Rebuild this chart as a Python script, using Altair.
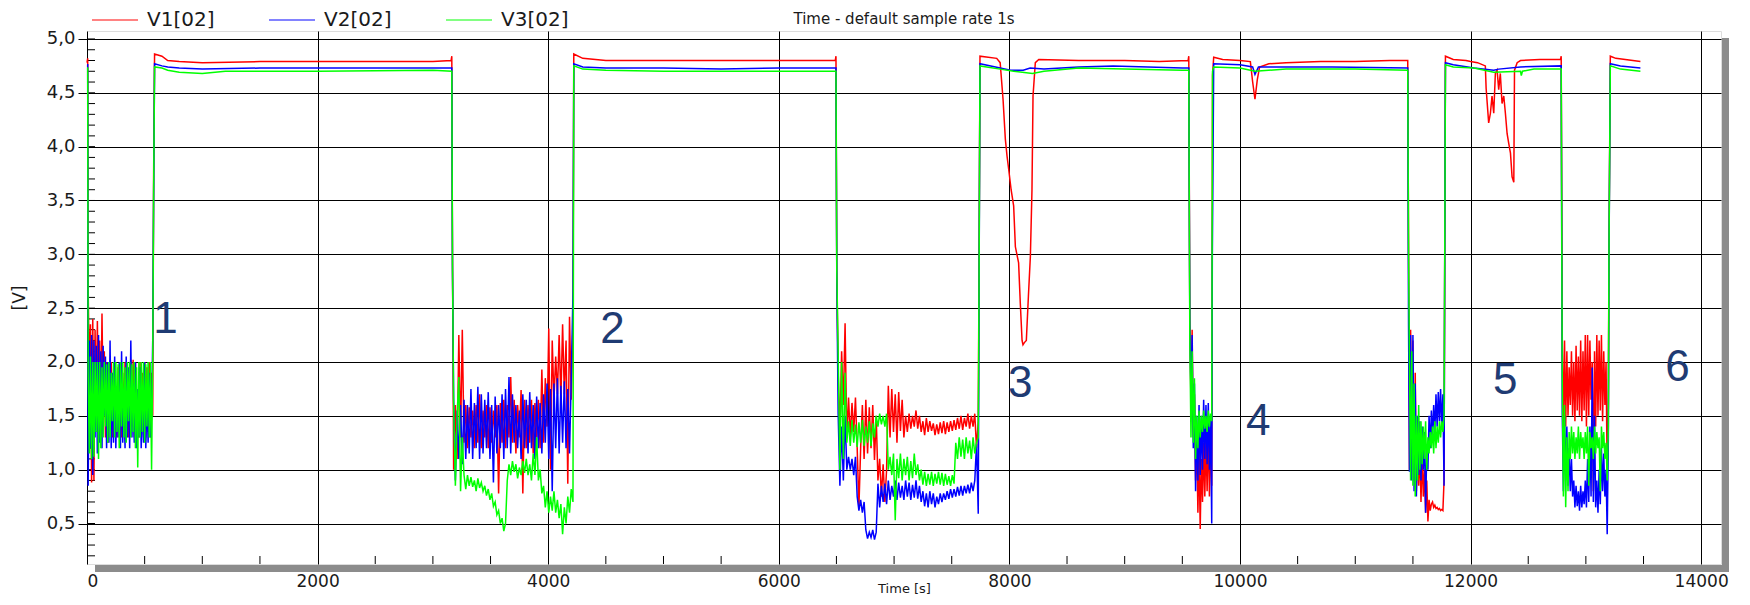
import altair as alt
import pandas as pd

SERIES = ["V1[02]", "V2[02]", "V3[02]"]
COLORS = ["#ff0000", "#0000ff", "#00ff00"]
CHART_TITLE = "Time  -  default sample rate  1s"

X_TICKS = [0, 2000, 4000, 6000, 8000, 10000, 12000, 14000]
Y_TICKS = [0.5, 1.0, 1.5, 2.0, 2.5, 3.0, 3.5, 4.0, 4.5, 5.0]
X_MINOR = [500, 1000, 1500, 2500, 3000, 3500, 4500, 5000, 5500, 6500, 7000, 7500,
           8500, 9000, 9500, 10500, 11000, 11500, 12500, 13000, 13500]
Y_MINOR = [round(0.2 + 0.1 * i, 1) for i in range(49)]

# quiet parts (plateaus, dips, transitions): (time [s], value [V])
v1_knots = [(0, 4.78), (6, 4.82),
            (578, 3.75), (586, 4.86), (650, 4.84), (700, 4.80), (800, 4.79), (1000, 4.78), (1500, 4.79),
            (2000, 4.79), (2500, 4.79), (3000, 4.79), (3158, 4.80), (3164, 4.84), (3170, 2.95),
            (4222, 4.86), (4300, 4.82), (4500, 4.80), (5000, 4.80), (5500, 4.80), (6000, 4.80), (6490, 4.80),
            (6496, 4.84), (6503, 2.85),
            (7738, 3.15), (7745, 4.84), (7890, 4.82), (7920, 4.78), (7945, 4.44), (7965, 4.07), (7980, 3.91),
            (7994, 3.79), (8015, 3.60), (8037, 3.45), (8052, 3.07), (8080, 2.92), (8095, 2.54), (8110, 2.20),
            (8118, 2.16), (8130, 2.18), (8147, 2.20), (8165, 2.61), (8182, 2.98), (8196, 3.60), (8205, 4.47),
            (8225, 4.78), (8255, 4.81), (8600, 4.80), (9000, 4.80), (9300, 4.79), (9550, 4.80), (9556, 4.84),
            (9762, 4.66), (9772, 4.83), (9850, 4.81), (10000, 4.80), (10090, 4.79), (10110, 4.60), (10130, 4.44),
            (10150, 4.62), (10170, 4.74), (10250, 4.77), (10400, 4.78), (10700, 4.79), (11000, 4.79),
            (11300, 4.80), (11455, 4.80), (11462, 3.10),
            (11776, 3.00), (11782, 4.84), (11850, 4.81), (11960, 4.80), (12000, 4.79), (12060, 4.78),
            (12128, 4.75), (12135, 4.54), (12157, 4.22), (12172, 4.31), (12186, 4.47), (12201, 4.31),
            (12215, 4.68), (12230, 4.71), (12244, 4.53), (12258, 4.68), (12273, 4.40), (12288, 4.47),
            (12302, 4.31), (12317, 4.12), (12331, 4.03), (12346, 3.94), (12360, 3.72), (12375, 3.67),
            (12381, 4.71), (12404, 4.78), (12433, 4.80), (12600, 4.81), (12780, 4.81), (12786, 4.84),
            (13200, 3.00), (13212, 4.84), (13260, 4.82), (13473, 4.79)]

v2_knots = [(0, 4.76), (6, 4.76),
            (578, 3.55), (586, 4.77), (650, 4.75), (700, 4.74), (800, 4.73), (1000, 4.72), (1500, 4.73),
            (2000, 4.73), (2500, 4.73), (3000, 4.73), (3164, 4.73), (3170, 2.85),
            (4222, 4.77), (4300, 4.74), (4500, 4.73), (5000, 4.73), (5500, 4.72), (6000, 4.73), (6496, 4.73),
            (6503, 2.80),
            (7738, 2.95), (7745, 4.77), (7920, 4.73), (8010, 4.71), (8120, 4.71), (8180, 4.73), (8300, 4.72),
            (8600, 4.74), (8900, 4.75), (9500, 4.73), (9556, 4.73),
            (9760, 2.95), (9772, 4.77), (10000, 4.76), (10110, 4.74), (10130, 4.67), (10160, 4.74),
            (10400, 4.74), (10800, 4.74), (11455, 4.73), (11462, 2.35),
            (11776, 3.05), (11782, 4.78), (11850, 4.76), (12030, 4.73), (12201, 4.71), (12244, 4.72),
            (12433, 4.74), (12786, 4.75),
            (13200, 2.90), (13212, 4.77), (13300, 4.75), (13473, 4.73)]

v3_knots = [(0, 4.73), (6, 4.73),
            (578, 3.60), (586, 4.74), (650, 4.73), (700, 4.71), (800, 4.69), (1000, 4.68), (1200, 4.70),
            (2000, 4.70), (3000, 4.71), (3164, 4.70), (3170, 2.90),
            (4222, 4.75), (4300, 4.72), (4500, 4.71), (5000, 4.70), (6496, 4.70), (6503, 2.85),
            (7738, 3.00), (7745, 4.75), (7920, 4.72), (8037, 4.70), (8200, 4.68), (8300, 4.70), (8600, 4.73),
            (9500, 4.71), (9556, 4.71),
            (9762, 4.70), (9772, 4.74), (10000, 4.73), (10130, 4.70), (10400, 4.72), (11000, 4.72),
            (11455, 4.71), (11462, 3.05),
            (11776, 3.00), (11782, 4.76), (11850, 4.74), (12030, 4.73), (12201, 4.69), (12433, 4.70),
            (12440, 4.66), (12450, 4.70), (12550, 4.72), (12786, 4.72),
            (13200, 2.95), (13212, 4.75), (13300, 4.72), (13473, 4.70)]

# noisy low-voltage segments: start time, sample step [s]
SEG_START = [10, 3180, 6515, 9565, 11470, 12795]
SEG_STEP = [10, 15, 15, 10, 10, 10]

v1_seg_a = [2.67, 1.9, 2.35, 0.88, 2.4, 0.9, 2.3, 1.5, 2.38, 1.3, 2.2, 1.4, 2.45, 1.6, 2.1, 1.3, 2.0, 1.25,
            1.95, 1.4, 2.0, 1.3, 1.9, 1.35, 1.6, 1.3, 1.95, 1.45, 2.0, 1.3, 1.9, 1.5, 2.0, 1.35, 1.95, 1.3,
            1.9, 2.02, 1.4, 2.02, 1.3, 2.0, 1.3, 1.62, 1.3, 2.0, 1.35, 1.9, 1.3, 2.0, 1.3, 1.95, 1.35, 2.0,
            1.3, 1.9, 1.5]
v2_seg_a = [0.85, 2.2, 1.2, 2.25, 0.95, 2.2, 1.3, 2.15, 1.15, 2.25, 1.25, 2.1, 1.2, 2.15, 1.5, 2.05, 1.2,
            2.0, 1.25, 2.2, 1.2, 1.9, 1.25, 2.05, 1.2, 1.75, 1.3, 2.0, 1.2, 2.1, 1.25, 1.7, 1.2, 2.05, 1.3,
            1.95, 1.2, 2.2, 1.3, 1.8, 1.25, 2.0, 1.2, 1.75, 1.3, 1.95, 1.2, 1.65, 1.25, 2.0, 1.2, 1.7, 1.25,
            1.9, 1.3, 1.5, 2.2]
v3_seg_a = [1.9, 1.15, 2.05, 1.1, 2.0, 1.12, 2.0, 1.35, 2.0, 1.1, 2.0, 1.2, 1.95, 1.3, 2.0, 1.4, 1.98, 1.25,
            2.0, 1.3, 1.9, 1.45, 2.0, 1.3, 2.0, 1.35, 1.98, 1.2, 2.0, 1.4, 2.0, 1.3, 1.95, 1.25, 2.0, 1.45,
            2.0, 1.3, 1.98, 1.35, 2.0, 1.2, 1.95, 1.02, 2.0, 1.3, 2.0, 1.35, 2.0, 1.25, 1.98, 1.4, 2.0, 1.3,
            2.0, 1.0, 2.0]

v1_seg_b = [1.0, 1.6, 1.1, 2.25, 1.3, 2.3, 1.25, 1.6, 1.2, 1.58, 1.3, 1.55, 1.2, 1.6, 1.25, 1.7, 1.2, 1.55,
            1.3, 1.6, 1.2, 1.58, 1.25, 1.55, 1.3, 1.6, 0.78, 1.62, 1.25, 1.65, 1.2, 1.6, 1.3, 1.86, 1.25,
            1.65, 1.15, 1.6, 1.3, 1.74, 0.78, 1.65, 1.2, 1.6, 1.25, 1.65, 1.15, 1.62, 1.3, 1.65, 1.2, 1.93,
            1.25, 1.85, 1.4, 2.31, 1.0, 2.2, 1.65, 2.05, 1.7, 2.25, 1.65, 2.35, 1.7, 2.2, 0.87, 2.42, 1.65,
            2.35]
v2_seg_b = [1.65, 0.9, 1.55, 1.1, 1.6, 1.05, 1.65, 1.1, 1.6, 1.15, 1.75, 1.1, 1.62, 1.2, 1.77, 1.1, 1.7,
            1.15, 1.65, 1.2, 1.72, 1.1, 1.6, 0.88, 1.68, 1.15, 1.6, 1.2, 1.7, 1.1, 1.75, 1.2, 1.86, 1.15, 1.7,
            1.25, 1.6, 1.2, 1.55, 1.1, 1.7, 1.2, 1.65, 1.15, 1.72, 1.2, 1.6, 1.1, 1.68, 1.2, 1.62, 1.15, 1.7,
            1.25, 1.8, 1.1, 1.75, 0.8, 1.8, 1.2, 1.85, 1.15, 1.78, 1.25, 1.82, 1.2, 1.75, 1.15, 1.85, 2.65]
v3_seg_b = [1.6, 0.85, 1.5, 1.86, 0.8, 1.3, 0.95, 0.82, 0.95, 0.85, 0.93, 0.84, 0.9, 0.8, 0.92, 0.83, 0.88,
            0.8, 0.85, 0.76, 0.82, 0.72, 0.78, 0.66, 0.7, 0.58, 0.62, 0.5, 0.55, 0.43, 0.5, 0.9, 1.05, 0.95,
            1.08, 0.98, 1.05, 0.92, 1.02, 0.95, 1.08, 0.97, 1.1, 0.95, 1.05, 0.9, 1.15, 0.95, 1.3, 0.9, 1.0,
            0.78, 0.85, 0.65, 0.8, 0.6, 0.75, 0.62, 0.8, 0.6, 0.72, 0.55, 0.68, 0.4, 0.65, 0.5, 0.75, 0.6,
            0.82, 0.7]

v1_seg_c = [1.9, 1.35, 2.1, 1.6, 2.36, 1.3, 1.67, 1.3, 1.62, 1.35, 1.67, 1.2, 0.65, 1.2, 1.6, 1.1, 1.65,
            1.15, 1.58, 1.2, 1.6, 1.09, 1.5, 0.9, 1.1, 0.75, 1.05, 0.7, 1.0, 1.78, 1.3, 1.75, 1.35, 1.7, 1.25,
            1.72, 1.36, 1.65, 1.3, 1.5, 1.35, 1.52, 1.38, 1.5, 1.4, 1.55, 1.38, 1.5, 1.35, 1.45, 1.32, 1.48,
            1.35, 1.45, 1.36, 1.43, 1.32, 1.42, 1.33, 1.44, 1.34, 1.45, 1.33, 1.44, 1.35, 1.45, 1.36, 1.46,
            1.37, 1.48, 1.38, 1.5, 1.37, 1.48, 1.4, 1.52, 1.38, 1.5, 1.4, 1.52, 1.2, 1.45]
v2_seg_c = [1.52, 0.85, 1.4, 0.9, 1.5, 1.0, 1.12, 1.0, 1.1, 0.95, 1.12, 0.75, 0.62, 0.72, 0.6, 0.7, 0.44,
            0.36, 0.42, 0.37, 0.44, 0.35, 0.42, 0.87, 0.65, 0.85, 0.7, 0.87, 0.68, 0.9, 0.72, 0.85, 0.75, 0.9,
            0.72, 0.88, 0.74, 0.85, 0.72, 0.9, 0.75, 0.88, 0.72, 0.86, 0.74, 0.9, 0.73, 0.85, 0.7, 0.8, 0.66,
            0.78, 0.65, 0.8, 0.68, 0.78, 0.65, 0.75, 0.68, 0.78, 0.7, 0.78, 0.72, 0.8, 0.73, 0.82, 0.74, 0.82,
            0.75, 0.84, 0.76, 0.85, 0.76, 0.85, 0.78, 0.86, 0.78, 0.88, 0.8, 0.9, 1.24, 0.59]
v3_seg_c = [2.08, 1.0, 2.0, 1.1, 1.9, 1.25, 1.45, 1.22, 1.46, 1.25, 1.42, 1.21, 1.44, 1.25, 1.46, 1.22, 1.4,
            1.25, 1.45, 1.22, 1.43, 1.3, 1.5, 1.4, 1.52, 1.42, 1.5, 1.4, 1.52, 1.0, 1.12, 0.95, 1.15, 0.53,
            1.1, 0.92, 1.15, 0.9, 1.1, 0.95, 1.12, 0.9, 1.08, 0.92, 1.15, 0.95, 1.05, 0.9, 1.0, 0.86, 0.98,
            0.85, 0.96, 0.86, 0.98, 0.85, 0.96, 0.87, 0.98, 0.86, 0.97, 0.85, 0.96, 0.86, 0.94, 0.85, 0.95,
            0.87, 1.25, 1.1, 1.3, 1.12, 1.28, 1.1, 1.3, 1.15, 1.27, 1.1, 1.3, 1.15, 1.25, 1.3]

v1_seg_d = [2.42, 1.6, 2.3, 1.3, 1.7, 0.9, 1.3, 0.6, 1.2, 0.45, 1.1, 0.7, 1.25, 0.75, 1.3, 0.8, 1.4, 0.75,
            1.3, 0.85]
v2_seg_d = [2.35, 1.7, 2.25, 1.2, 1.8, 0.8, 1.5, 0.9, 1.6, 0.95, 1.5, 1.0, 1.65, 1.1, 1.6, 1.05, 1.62, 1.0,
            1.5, 0.5]
v3_seg_d = [2.2, 1.3, 2.1, 1.25, 1.85, 1.1, 1.5, 1.2, 1.55, 1.3, 1.5, 1.35, 1.55, 1.38, 1.5, 1.35, 1.55,
            1.4, 1.52, 1.45]

v1_seg_e = [1.0, 2.3, 1.1, 2.2, 0.9, 1.9, 0.8, 1.25, 0.85, 1.2, 0.7, 1.15, 0.75, 1.0, 0.6, 0.9, 0.52, 0.72,
            0.62, 0.68, 0.7, 0.65, 0.67, 0.64, 0.65, 0.63, 0.64, 0.62, 0.63, 0.62, 0.9]
v2_seg_e = [0.98, 2.25, 0.9, 2.25, 0.8, 1.8, 0.75, 1.5, 0.95, 1.45, 0.9, 1.4, 1.0, 1.35, 0.6, 1.2, 1.0, 1.5,
            1.2, 1.55, 1.3, 1.6, 1.35, 1.7, 1.4, 1.72, 1.45, 1.75, 1.4, 1.7, 0.85]
v3_seg_e = [2.0, 0.9, 2.1, 0.85, 1.8, 0.75, 1.5, 0.9, 1.6, 1.0, 1.45, 1.05, 1.4, 1.1, 1.45, 1.0, 1.3, 1.15,
            1.35, 1.2, 1.4, 1.15, 1.45, 1.2, 1.4, 1.25, 1.45, 1.3, 1.45, 1.35, 1.5]

v1_seg_f = [2.25, 1.3, 2.2, 1.4, 2.1, 1.5, 1.95, 1.6, 2.1, 1.5, 2.0, 1.45, 2.15, 1.55, 2.05, 1.5, 2.2, 1.45,
            2.1, 1.55, 2.25, 1.4, 2.25, 1.5, 2.2, 1.65, 2.0, 0.8, 2.1, 1.4, 2.25, 1.5, 2.2, 1.55, 2.25, 1.45,
            2.1, 1.6, 2.0, 0.95, 1.6]
v2_seg_f = [1.55, 0.8, 1.5, 0.9, 1.4, 0.85, 1.2, 0.8, 1.1, 0.75, 0.9, 0.65, 0.85, 0.66, 0.8, 0.62, 0.85,
            0.65, 0.8, 0.68, 0.9, 0.65, 1.1, 0.7, 1.4, 0.75, 1.95, 0.7, 1.5, 0.65, 0.9, 0.6, 1.0, 0.68, 1.2,
            0.8, 1.15, 0.75, 1.0, 0.4, 1.3]
v3_seg_f = [1.85, 0.75, 1.6, 0.65, 1.3, 0.8, 1.35, 1.1, 1.4, 1.15, 1.35, 1.1, 1.3, 1.15, 1.4, 1.1, 1.35, 1.2,
            1.3, 1.1, 1.35, 1.15, 1.4, 0.85, 1.35, 1.2, 1.3, 1.1, 1.4, 1.15, 1.35, 1.2, 1.3, 0.8, 1.4, 1.2,
            1.35, 1.1, 1.25, 0.9, 1.4]

# annotation numbers written on the chart
NOTE_TEXT = ["1", "2", "3", "4", "5", "6"]
NOTE_T = [680, 4557, 8095, 10159, 12301, 13794]
NOTE_V = [2.39, 2.30, 1.80, 1.44, 1.82, 1.94]

series_knots = [v1_knots, v2_knots, v3_knots]
series_segs = [
    [v1_seg_a, v1_seg_b, v1_seg_c, v1_seg_d, v1_seg_e, v1_seg_f],
    [v2_seg_a, v2_seg_b, v2_seg_c, v2_seg_d, v2_seg_e, v2_seg_f],
    [v3_seg_a, v3_seg_b, v3_seg_c, v3_seg_d, v3_seg_e, v3_seg_f],
]

rows = []
for name, knots, segs in zip(SERIES, series_knots, series_segs):
    for t, v in knots:
        rows.append({"series": name, "t": t, "v": v})
    for start, step, vals in zip(SEG_START, SEG_STEP, segs):
        for i, v in enumerate(vals):
            rows.append({"series": name, "t": start + step * i, "v": v})
df = pd.DataFrame(rows).sort_values(["series", "t"]).reset_index(drop=True)

notes = pd.DataFrame({"label": NOTE_TEXT, "t": NOTE_T, "v": NOTE_V})
xminor = pd.DataFrame({"t": X_MINOR})
yminor = pd.DataFrame({"v": Y_MINOR})

W, H = 1634, 533
FONT = "DejaVu Sans"

xscale = alt.Scale(domain=[0, 14172], nice=False, zero=False)
yscale = alt.Scale(domain=[0.124, 5.074], nice=False, zero=False)

xaxis = alt.Axis(values=X_TICKS, format="d", grid=True, gridColor="#000000", gridWidth=1,
                 domain=False, ticks=False, labelFont=FONT, labelFontSize=17, labelColor="#1a1a1a",
                 labelPadding=9, title="Time [s]", titleFont=FONT, titleFontSize=13,
                 titleFontWeight="normal", titleColor="#1a1a1a", titleBaseline="top", titleY=18)
yaxis = alt.Axis(values=Y_TICKS, grid=True, gridColor="#000000", gridWidth=1, domain=False,
                 tickSize=9, tickColor="#000000", labelFont=FONT, labelFontSize=18,
                 labelColor="#1a1a1a", labelPadding=3,
                 labelExpr="replace(format(datum.value, '.1f'), '.', ',')",
                 title="[V]", titleFont=FONT, titleFontSize=17, titleFontWeight="normal",
                 titleColor="#1a1a1a", titleAngle=-90, titleX=-68, titleY=H / 2,
                 titleAlign="center", titleBaseline="middle")

X = alt.X("t:Q", scale=xscale, axis=xaxis)
Y = alt.Y("v:Q", scale=yscale, axis=yaxis)

lines = alt.Chart(df).mark_line(strokeWidth=1.5).encode(
    x=X, y=Y,
    color=alt.Color("series:N", scale=alt.Scale(domain=SERIES, range=COLORS),
                    legend=alt.Legend(title=None, orient="none", legendX=4, legendY=-35,
                                      direction="horizontal", symbolType="stroke",
                                      symbolSize=2116, symbolStrokeWidth=1.5, symbolOpacity=0.65,
                                      labelFont=FONT, labelFontSize=20, labelColor="#1a1a1a",
                                      labelOffset=8, columnPadding=51, padding=0)),
    order=alt.Order("t:Q"),
)

ymin_ticks = alt.Chart(yminor).mark_rule(color="#000000", strokeWidth=1).encode(
    y=Y, x=alt.value(0), x2=alt.value(8))
xmin_ticks = alt.Chart(xminor).mark_rule(color="#000000", strokeWidth=1).encode(
    x=X, y=alt.value(H - 8), y2=alt.value(H))

shadow_df = pd.DataFrame({"k": [0]})
shadow_bottom = alt.Chart(shadow_df).mark_rect(color="#8c8c8c").encode(
    x=alt.value(8), x2=alt.value(W + 8), y=alt.value(H + 1), y2=alt.value(H + 8))
shadow_right = alt.Chart(shadow_df).mark_rect(color="#8c8c8c").encode(
    x=alt.value(W + 1), x2=alt.value(W + 8), y=alt.value(7), y2=alt.value(H + 8))

title_text = alt.Chart(shadow_df).mark_text(text=CHART_TITLE, font=FONT, fontSize=15,
                                            color="#1a1a1a", align="center",
                                            baseline="bottom").encode(
    x=alt.value(W / 2), y=alt.value(-4))

labels = alt.Chart(notes).mark_text(font="Liberation Sans", fontSize=44, color="#1f3b73",
                                    align="center", baseline="middle").encode(
    x=X, y=Y, text="label:N")

chart = alt.layer(shadow_bottom, shadow_right, ymin_ticks, xmin_ticks, lines, labels,
                  title_text).properties(
    width=W, height=H,
    padding={"left": 79, "top": 23, "right": 21, "bottom": 33},
    autosize=alt.AutoSizeParams(type="none"),
).configure_view(stroke="#000000", strokeWidth=1).configure(background="#ffffff")

chart.save("out.html", embed_options={"renderer": "svg", "actions": False})
